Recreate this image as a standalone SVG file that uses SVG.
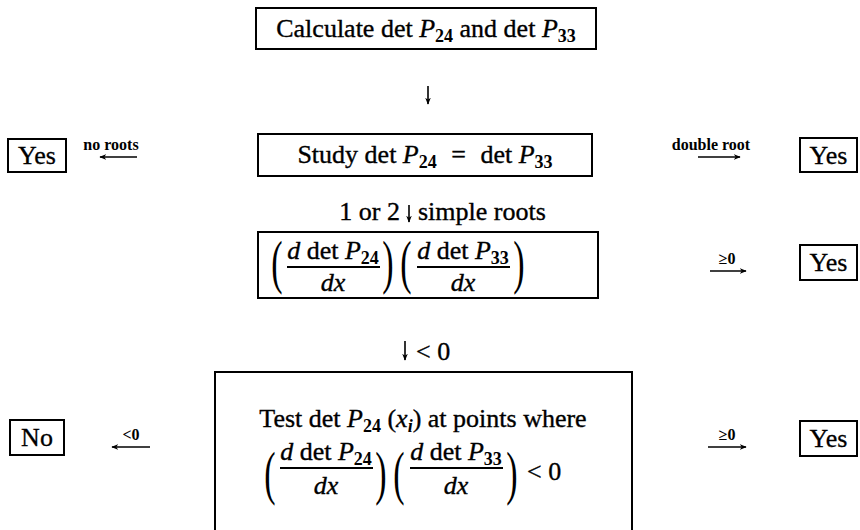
<svg xmlns="http://www.w3.org/2000/svg" width="860" height="530" viewBox="0 0 860 530">
<defs>
<style>
.box{fill:#fff;stroke:#000;stroke-width:2}
.t{font-family:"Liberation Serif","DejaVu Serif",serif;font-size:26px;fill:#000;stroke:#000;stroke-width:0.35;text-anchor:middle}
.m{font-style:italic}
.s{font-size:18px;font-weight:bold;stroke-width:0}
.yes{font-family:"Liberation Serif","DejaVu Serif",serif;font-size:26px;fill:#000;stroke:#000;stroke-width:0.3;text-anchor:middle}
.lbl{font-family:"Liberation Serif","DejaVu Serif",serif;font-size:16px;font-weight:bold;fill:#000;text-anchor:middle}
.par{font-family:"Liberation Serif","DejaVu Serif",serif;font-size:34px;fill:#000;text-anchor:middle}
.bar{stroke:#000;stroke-width:1.8}
.c{stroke:#000;stroke-width:1.6;fill:none}
</style>
<marker id="ah" viewBox="0 0 10 10" refX="9" refY="5" markerWidth="7" markerHeight="7" markerUnits="userSpaceOnUse" orient="auto">
<path d="M0,1 L10,5 L0,9 L3,5 Z" fill="#000"/>
</marker>
</defs>
<rect width="860" height="530" fill="#fff"/>

<g id="connectors">
<line class="c" x1="428" y1="86" x2="428" y2="104" marker-end="url(#ah)"/>
<line class="c" x1="137" y1="157" x2="100" y2="157" marker-end="url(#ah)"/>
<text class="lbl" x="111" y="150">no roots</text>
<line class="c" x1="698" y1="157" x2="740" y2="157" marker-end="url(#ah)"/>
<text class="lbl" x="711" y="150">double root</text>
<line class="c" x1="409" y1="205" x2="409" y2="222" marker-end="url(#ah)"/>
<text class="t" x="400" y="220" style="text-anchor:end">1 or 2</text>
<text class="t" x="418" y="220" style="text-anchor:start">simple roots</text>
<line class="c" x1="710" y1="271" x2="746" y2="271" marker-end="url(#ah)"/>
<text class="lbl" x="727" y="264">≥0</text>
<line class="c" x1="405" y1="341" x2="405" y2="360" marker-end="url(#ah)"/>
<text class="t" x="416" y="360" style="text-anchor:start">&lt; 0</text>
<line class="c" x1="150" y1="447" x2="112" y2="447" marker-end="url(#ah)"/>
<text class="lbl" x="131" y="440">&lt;0</text>
<line class="c" x1="708" y1="447" x2="746" y2="447" marker-end="url(#ah)"/>
<text class="lbl" x="727" y="440">≥0</text>
</g>

<g id="calc">
<rect class="box" x="256" y="8" width="340" height="41"/>
<text class="t" x="426" y="37" font-size="28">Calculate det <tspan class="m">P</tspan><tspan class="s" dy="5">24</tspan><tspan dy="-5"> and det </tspan><tspan class="m">P</tspan><tspan class="s" dy="5">33</tspan></text>
</g>

<g id="study">
<rect class="box" x="258" y="134" width="334" height="42"/>
<text class="t" x="425" y="163" font-size="29">Study det <tspan class="m">P</tspan><tspan class="s" dy="5">24</tspan><tspan dy="-5" dx="8"> = </tspan><tspan dx="8">det </tspan><tspan class="m">P</tspan><tspan class="s" dy="5">33</tspan></text>
</g>

<g id="yes-left">
<rect class="box" x="8" y="139" width="58" height="33"/>
<text class="yes" x="37" y="164">Yes</text>
</g>

<g id="yes-right-1">
<rect class="box" x="800" y="138" width="57" height="34"/>
<text class="yes" x="828.5" y="164">Yes</text>
</g>

<g id="derivative">
<rect class="box" x="258" y="232" width="340" height="66"/>
<text class="par" x="277" y="161" transform="scale(1,1.75)">(</text>
<text class="t" x="333" y="259" font-size="25"><tspan class="m">d</tspan> det <tspan class="m">P</tspan><tspan class="s" dy="5">24</tspan></text>
<line class="bar" x1="287" y1="267" x2="380" y2="267"/>
<text class="t m" x="333" y="291" font-size="25">dx</text>
<text class="par" x="388" y="161" transform="scale(1,1.75)">)</text>
<text class="par" x="406" y="161" transform="scale(1,1.75)">(</text>
<text class="t" x="463" y="259" font-size="25"><tspan class="m">d</tspan> det <tspan class="m">P</tspan><tspan class="s" dy="5">33</tspan></text>
<line class="bar" x1="417" y1="267" x2="510" y2="267"/>
<text class="t m" x="463" y="291" font-size="25">dx</text>
<text class="par" x="519" y="161" transform="scale(1,1.75)">)</text>
</g>

<g id="yes-right-2">
<rect class="box" x="800" y="245" width="57" height="35"/>
<text class="yes" x="828.5" y="271">Yes</text>
</g>

<g id="test">
<rect class="box" x="215" y="372" width="417" height="170"/>
<text class="t" x="423" y="427">Test det <tspan class="m">P</tspan><tspan class="s" dy="5">24</tspan><tspan dy="-5"> (</tspan><tspan class="m">x</tspan><tspan class="m s" dy="5">i</tspan><tspan dy="-5">) at points where</tspan></text>
<text class="par" x="270" y="282" transform="scale(1,1.75)">(</text>
<text class="t" x="326" y="460" font-size="25"><tspan class="m">d</tspan> det <tspan class="m">P</tspan><tspan class="s" dy="5">24</tspan></text>
<line class="bar" x1="280" y1="468" x2="373" y2="468"/>
<text class="t m" x="326" y="494" font-size="25">dx</text>
<text class="par" x="381" y="282" transform="scale(1,1.75)">)</text>
<text class="par" x="399" y="282" transform="scale(1,1.75)">(</text>
<text class="t" x="456" y="460" font-size="25"><tspan class="m">d</tspan> det <tspan class="m">P</tspan><tspan class="s" dy="5">33</tspan></text>
<line class="bar" x1="410" y1="468" x2="503" y2="468"/>
<text class="t m" x="456" y="494" font-size="25">dx</text>
<text class="par" x="512" y="282" transform="scale(1,1.75)">)</text>
<text class="t" x="527" y="480" style="text-anchor:start">&lt; 0</text>
</g>

<g id="no">
<rect class="box" x="10" y="420" width="54" height="35"/>
<text class="yes" x="37" y="446">No</text>
</g>

<g id="yes-right-3">
<rect class="box" x="800" y="421" width="57" height="35"/>
<text class="yes" x="828.5" y="447">Yes</text>
</g>
</svg>
